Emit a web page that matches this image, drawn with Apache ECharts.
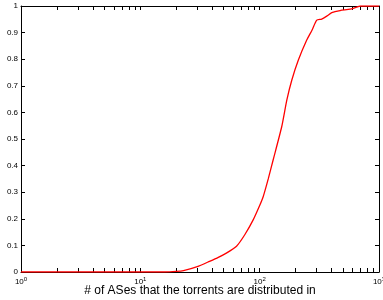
<!DOCTYPE html>
<html>
<head>
<meta charset="utf-8">
<script src="https://cdn.jsdelivr.net/npm/echarts@6/dist/echarts.min.js"></script>
<style>
  html, body { margin: 0; padding: 0; background: #fff; }
  #chart { width: 383px; height: 300px; }
</style>
</head>
<body>
<div id="chart"></div>
<script>
// number of ASes (x) and the CDF value (y)
const asCounts = [1, 10, 16, 20, 23, 30, 38, 45, 53, 64, 75, 88, 100, 107, 118, 130, 153, 169, 186, 211, 248, 275, 301, 331, 365, 402, 472, 573, 650, 700, 1000]
const cdfValues = [0, 0, 0, 0.002, 0.005, 0.02, 0.04, 0.055, 0.072, 0.097, 0.14, 0.195, 0.25, 0.283, 0.35, 0.423, 0.546, 0.647, 0.722, 0.797, 0.872, 0.91, 0.947, 0.951, 0.962, 0.975, 0.983, 0.988, 0.996, 1, 1]

const majorTicks = [1, 10, 100, 1000]
const minorTicks = []
for (const d of [1, 10, 100]) {
  for (let k = 2; k <= 9; k++) minorTicks.push(d * k)
}
const allTicks = majorTicks.concat(minorTicks).sort((a, b) => a - b)

const chart = echarts.init(document.getElementById('chart'))

const font = 'Liberation Sans, Arial, sans-serif'
const axisLine = { show: true, onZero: false, lineStyle: { color: '#000', width: 1 } }
const tickStyle = { show: true, inside: true, length: 4, lineStyle: { color: '#000', width: 1 } }

const option = {
  animation: false,
  grid: { left: 21, right: 4, top: 6, bottom: 28, containLabel: false, outerBoundsMode: 'none' },
  xAxis: [
    {
      type: 'log',
      logBase: 10,
      min: 1,
      max: 1000,
      axisLine: axisLine,
      axisTick: Object.assign({ customValues: allTicks }, tickStyle),
      splitLine: { show: false },
      axisLabel: {
        customValues: majorTicks,
        margin: 4,
        color: '#000',
        fontFamily: font,
        fontSize: 8,
        formatter: (v) => '10{sup|' + Math.round(Math.log10(v)) + '}',
        rich: {
          sup: { fontSize: 6, verticalAlign: 'bottom', padding: [0, 0, 5, 0], fontFamily: font, color: '#000' }
        }
      },
      name: '# of ASes that the torrents are distributed in',
      nameLocation: 'middle',
      nameGap: 13,
      nameMoveOverlap: false,
      nameTextStyle: { color: '#000', fontSize: 12, fontFamily: font, verticalAlign: 'top' }
    },
    {
      type: 'log',
      logBase: 10,
      position: 'top',
      min: 1,
      max: 1000,
      axisLine: axisLine,
      axisTick: Object.assign({ customValues: allTicks }, tickStyle),
      splitLine: { show: false },
      axisLabel: { show: false }
    }
  ],
  yAxis: [
    {
      type: 'value',
      min: 0,
      max: 1,
      interval: 0.1,
      axisLine: axisLine,
      axisTick: tickStyle,
      splitLine: { show: false },
      axisLabel: {
        margin: 3,
        color: '#000',
        fontFamily: font,
        fontSize: 8,
        formatter: (v) => String(+v.toFixed(1))
      }
    },
    {
      type: 'value',
      position: 'right',
      min: 0,
      max: 1,
      interval: 0.1,
      axisLine: axisLine,
      axisTick: tickStyle,
      splitLine: { show: false },
      axisLabel: { show: false }
    }
  ],
  series: [
    {
      type: 'line',
      data: asCounts.map((x, i) => [x, cdfValues[i]]),
      showSymbol: false,
      smooth: 0.2,
      lineStyle: { color: '#ff0000', width: 1.3 },
      z: 1
    }
  ]
}

chart.setOption(option)
</script>
</body>
</html>
